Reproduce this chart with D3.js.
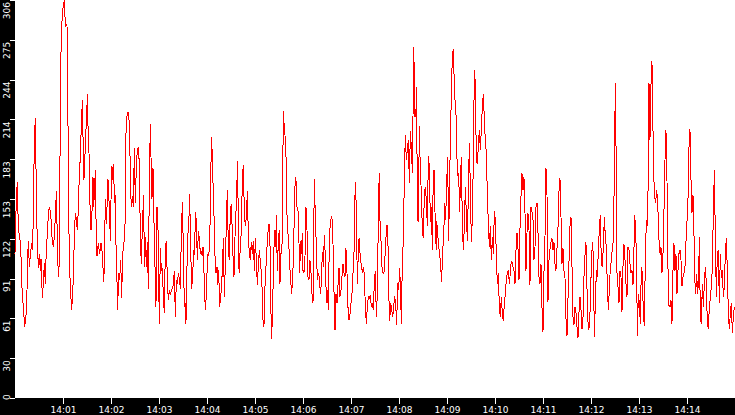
<!DOCTYPE html>
<html><head><meta charset="utf-8">
<script src="https://cdn.jsdelivr.net/npm/d3@7"></script>
<style>html,body{margin:0;padding:0;background:#000;overflow:hidden}</style>
</head><body><svg id="c" width="735" height="415"></svg>
<script>
// seconds after 14:00:00
const seconds = [
0,1.7,2.9,4.2,5.8,7.1,8.8,10.8,12.1,13.8,15,15.8,16.7,17.9,19.2,20.8,22.1,23.3,24.2,25.4,
27.1,28.3,29.2,30.4,31.7,32.5,34.2,35.4,36.7,37.9,39.2,40.4,41.7,42.9,44.6,46.7,48.3,50.4,51.7,53.3,
54.2,55.4,56.2,57.1,58.3,59.2,60.4,61.7,62.5,63.3,65,65.8,66.7,67.9,69.6,70.8,72.1,73.3,74.2,75.4,
76.7,77.9,79.2,80.4,81.2,82.9,84.2,85,86.2,87.1,88.3,89.6,90.4,91.2,92.5,93.8,95,96.2,97.5,98.3,
99.6,100.4,101.2,102.5,104.2,105.8,107.5,109.2,110.8,111.7,112.9,114.2,115.4,116.2,117.9,119.2,120,121.2,122.1,123.3,
124.2,125,126.2,127.1,128.3,129.6,130.8,132.1,133.3,134.6,135.8,137.1,
137.9,138.7,139.6,141.2,142.5,143.7,144.6,145.8,147.1,147.9,
149.2,150.4,151.7,152.9,154.2,155.4,156.7,157.9,159.2,160.8,
161.7,162.9,164.2,165.4,166.7,167.9,169.2,170,171.2,172.5,
173.7,175,176.2,177.5,178.7,179.6,180.4,181.7,182.9,184.2,
185.4,186.7,187.9,189.2,190.4,191.7,192.9,194.2,195.4,196.7,
197.9,199.2,200.4,201.7,202.9,204.2,205.4,206.7,207.9,209.2,
210.4,211.7,212.9,213.7,214.6,215.8,217.1,218.3,219.6,220.8,
222.1,223.3,224.6,225.4,226.7,227.9,229.2,230.4,231.7,232.9,234.2,
235,236.2,237.1,238.3,239.6,240.8,242.1,243.3,244.6,245.4,
246.7,247.9,249.2,250,251.2,252.5,253.3,254.6,255.8,257.1,
258.3,259.6,260.4,261.7,262.9,264.2,265.4,266.7,267.9,269.2,
270.4,271.7,272.9,273.7,275,276.2,277.1,278.3,279.6,280.4,
281.7,282.9,284.2,285.4,286.7,287.9,289.2,290.4,291.7,292.9,
294.2,295.4,296.7,297.9,299.2,300.4,301.7,302.9,304.2,305.4,
306.7,307.9,309.2,310,311.2,312.5,313.7,315,316.2,317.5,
318.7,319.6,320.8,322.1,323.3,324.6,325.8,326.7,327.9,329.2,330.4,
331.2,332.5,333.7,334.6,335.4,336.2,337.5,338.7,339.6,340.8,
342.1,343.3,344.6,345.8,347.1,348.3,349.2,350.4,351.2,352.5,
353.7,355,355.8,357.1,357.9,359.2,360,361.2,362.5,363.7,
365,366.2,367.5,368.7,370,371.2,372.5,373.3,374.2,375.4,
376.7,377.9,379.2,380.4,381.7,382.9,384.2,385.4,386.7,387.9,
389.2,390.4,391.7,392.9,394.2,395.4,396.7,397.9,399.2,400,
401.2,402.5,403.7,405,406.2,407.5,408.7,410,411.2,412.5,
413.7,415,416.2,417.5,418.7,420,421.2,422.5,423.7,424.6,
425.4,426.7,427.5,428.3,429.2,
430.4,431.7,432.9,434.2,435.4,436.7,437.9,439.2,440.4,441.7,
442.9,444.2,445.4,446.7,447.9,449.2,450.4,451.7,452.9,453.7,
454.6,455.4,456.2,457.5,458.7,460,461.2,462.5,463.7,465,
466.2,467.1,468.3,469.6,470.8,472.1,473.3,474.6,475.8,477.1,
478.3,479.6,480.8,482.1,482.9,484.2,485.4,486.7,487.9,489.2,
490.4,491.7,492.9,494.2,495.4,496.7,497.5,498.3,499.2,500,
501.2,502.1,502.9,504.2,505.4,506.7,507.9,509.2,510.4,511.7,
512.9,514.2,515.4,516.7,517.9,519.2,520.4,521.7,522.9,524.2,
525.4,526.7,
527.1,528.3,529.6,530.8,532.1,533.3,534.6,535.8,537.1,538.3,
539.6,540.8,542.1,542.9,544.2,545.4,546.7,547.9,548.7,550,
551.2,552.1,553.3,554.6,555.8,557.1,557.9,559.2,560.4,561.7,
562.9,564.2,565.4,566.7,567.9,569.2,570.4,571.7,572.9,574.2,
575.4,576.7,577.9,579.2,580.4,581.7,582.9,584.2,585.4,586.7,
587.9,589.2,590.4,591.7,592.9,594.2,595.4,596.7,597.9,599.2,
600.4,601.7,602.9,604.2,605.4,606.7,607.9,609.2,610.4,611.7,
612.9,614.2,615.4,616.7,617.9,619.2,620,
621.2,622.5,623.7,625,626.2,627.5,628.7,630,631.2,632.5,
633.7,635,636.2,637.5,638.7,640,641.2,642.5,643.7,645,
646.2,647.5,648.7,650,651.2,652.5,653.7,655,656.2,657.5,
658.7,660,661.2,662.5,663.7,665,666.2,667.5,668.7,670,
671.2,672.5,673.7,675,676.2,677.5,678.7,680,681.2,682.5,
683.7,685,686.2,687.5,688.7,690,691.2,692.5,693.7,695,
696.2,697.5,698.7,700,701.2,702.5,703.7,705,706.2,707.5,
708.7,710,711.2,712.5,
713.7,714.6,715.8,717.1,718.3,719.6,720.8,722.1,722.9,724.2,
725.4,726.7,727.9,729.2,730.4,731.7,732.9,734.2,735.4,736.7,
737.9,739.2,740.4,741.7,742.9,744.2,745.4,746.7,747.9,749.2,
750.4,751.7,752.5,753.7,755,756.2,757.5,758.7,760,761.2,
762.5,763.7,765,766.2,767.5,768.7,770,771.2,772.5,773.7,
774.6,775.8,777.1,777.9,779.2,780.4,781.7,782.9,784.2,785.4,
786.7,787.9,789.2,790.4,791.7,792.5,793.7,795,796.2,797.1,
798.3,799.6,800.8,802.1,803.3,804.6,805.8,806.7,
807.5,808.7,810,811.2,812.5,813.7,815,816.2,817.5,818.7,
820,821.2,822.5,823.7,825,826.2,827.5,828.7,830,831.2,
832.5,833.7,835,836.2,837.5,838.7,840,841.2,842.5,843.7,
845,846.2,847.5,848.7,849.6,850.8,852.1,853.3,854.6,855.4,
856.7,857.9,859.2,860.4,861.7,862.9,864.2,865.4,866.7,867.9,
869.2,870.4,871.7,872.9,874.2,875.4,876.7,877.9,879.2,880.4,
881.7,882.9,884.2,885.4,886.7,887.9,889.2,890.4,891.7,892.9,
894.2,895.4,896.7,897.9,899.2
];
const rate = [
111,155,166,129,125,116,84,66,55,64,83,107,121,101,110,119,114,160,198,215,
139,114,100,111,98,107,77,88,104,88,116,125,142,147,142,119,116,139,159,110,
93,104,180,257,282,297,301,306,293,286,287,251,170,105,80,68,80,101,125,142,
138,129,145,173,180,209,229,201,168,180,201,216,234,210,188,147,129,142,170,147,
162,175,139,109,119,111,119,111,89,101,153,134,153,168,147,121,152,178,168,180,
150,157,119,101,68,96,91,106,77,110,118,124,
142,203,216,220,214,188,156,147,155,147,
192,150,178,191,193,180,123,103,132,156,
101,124,101,120,84,165,211,185,153,177,
137,101,70,147,132,92,57,115,98,100,
78,65,116,121,91,75,83,79,83,84,
87,98,62,91,88,96,92,84,125,151,
115,70,73,57,89,125,130,157,116,84,
93,114,110,143,136,106,128,123,111,112,109,
116,98,77,68,88,111,109,118,160,201,
187,155,132,109,96,101,87,98,70,78,
86,106,123,78,103,134,160,114,106,147,
148,127,101,93,124,142,160,182,103,96,
119,127,169,179,142,132,139,159,124,111,
106,120,111,121,98,123,106,87,102,114,
105,96,80,60,55,86,101,116,127,134,
120,75,45,70,109,129,116,141,98,121,129,
88,111,114,166,221,212,202,188,147,129,
121,103,91,80,92,114,147,170,168,147,
145,119,96,121,111,127,98,96,109,147,
129,93,91,106,96,80,73,121,168,139,
116,91,95,93,80,88,112,101,125,109,
73,83,68,121,135,139,137,109,68,52,
80,73,86,100,78,83,93,103,96,93,
115,96,70,60,64,73,80,96,109,145,
166,145,106,88,120,
123,106,103,96,101,95,70,57,70,78,
77,79,70,73,68,89,98,62,80,116,
157,173,137,121,101,96,96,109,123,133,
119,83,59,73,68,62,70,78,73,56,
88,83,100,80,57,106,121,171,202,183,
191,198,165,205,193,173,216,270,247,216,
221,239,139,135,209,173,159,128,123,157,
162,152,132,186,178,135,147,114,175,175,
127,114,
136,127,116,111,101,89,114,123,150,137,
165,185,121,152,198,232,265,268,250,229,
220,191,171,173,143,173,185,134,114,132,
162,142,121,157,196,162,120,138,183,252,
242,182,180,194,206,191,206,224,234,214,
198,188,157,134,116,132,106,124,111,144,
137,109,88,96,70,62,78,65,59,73,
80,91,96,98,88,96,103,
105,101,98,88,113,127,116,91,129,155,
173,160,170,142,98,127,142,129,87,147,
143,137,106,116,147,150,129,93,88,103,
70,51,96,124,177,156,74,106,114,120,
123,114,120,103,98,115,130,159,169,139,
103,115,98,92,61,48,75,105,132,139,
103,62,56,70,66,55,46,66,78,68,
53,62,93,110,
120,96,62,52,57,83,110,120,106,47,
73,98,93,114,130,141,103,101,116,139,
124,116,86,68,83,101,105,116,121,173,
242,169,96,86,73,98,93,66,101,118,
106,88,78,116,114,103,96,98,87,114,
141,129,101,48,80,73,57,101,96,65,
55,106,137,132,173,242,198,241,259,223,
173,155,150,160,152,127,112,111,
116,96,111,143,183,206,167,101,71,70,
75,57,98,119,98,111,80,98,111,114,
106,86,93,96,101,120,136,152,193,207,
168,142,156,127,93,80,95,80,93,124,
62,57,88,70,88,101,88,57,53,70,
77,86,100,142,175,124,78,112,114,73,
111,92,98,78,86,111,123,98,65,53,
65,73,50,62,70
];
const xTickLabels = ["14:01","14:02","14:03","14:04","14:05","14:06","14:07","14:08","14:09","14:10","14:11","14:12","14:13","14:14"];
const yTickLabels = ["0","30","61","91","122","153","183","214","244","275","306"];
const yMax = 306;
const startTime = "14:00:00", endTime = "14:15:00";

const W = 735, H = 415;
const m = {left: 15, right: 0, top: 0, bottom: 17};
const parse = d3.timeParse("%H:%M:%S");
const t0 = parse(startTime), t1 = parse(endTime);
const n = Math.min(seconds.length, rate.length);
const data = d3.range(n).map(i => ({t: new Date(+t0 + seconds[i]*1000), v: rate[i]}));

const svg = d3.select("#c");
svg.append("rect").attr("width", W).attr("height", H).attr("fill", "#000");
const x = d3.scaleTime().domain([t0, t1]).range([m.left, W - m.right]);
const y = d3.scaleLinear().domain([0, yMax]).range([H - m.bottom, m.top]);

svg.append("rect").attr("x", m.left).attr("y", m.top)
  .attr("width", W - m.left - m.right).attr("height", H - m.bottom - m.top).attr("fill", "#fff");

svg.append("path").datum(data)
  .attr("fill", "none").attr("stroke", "#ff0000").attr("stroke-width", 1)
  .attr("shape-rendering", "crispEdges")
  .attr("d", d3.line().x(d => x(d.t)).y(d => y(d.v)));

const fontFam = "'DejaVu Sans', sans-serif";
const xTicks = xTickLabels.map(s => d3.timeParse("%H:%M")(s));
const gx = svg.append("g").attr("transform", `translate(0,${H - m.bottom})`)
  .call(d3.axisBottom(x).tickValues(xTicks).tickFormat((d,i) => xTickLabels[i]).tickSize(6).tickPadding(3));
gx.select(".domain").remove();
gx.selectAll("line").attr("stroke", "#fff").attr("shape-rendering", "crispEdges");
gx.selectAll("text").attr("fill", "#fff").attr("font-family", fontFam).attr("font-size", 9).attr("dy", null).attr("y", 15);

const yTicks = yTickLabels.map((s, i) => yMax * i / (yTickLabels.length - 1));
const gy = svg.append("g").attr("transform", `translate(${m.left},0)`)
  .call(d3.axisLeft(y).tickValues(yTicks).tickFormat((d,i) => yTickLabels[i]).tickSize(5));
gy.select(".domain").remove();
gy.selectAll("line").attr("stroke", "#fff").attr("shape-rendering", "crispEdges");
gy.selectAll(".tick text")
  .attr("fill", "#fff").attr("font-family", fontFam).attr("font-size", 9)
  .attr("x", null).attr("dy", null)
  .attr("text-anchor", (d,i) => i === 0 ? "start" : "end")
  .attr("transform", (d,i) => i === 0 ? "translate(-5.5,1.5) rotate(-90)" : "translate(-5.5,1.5) rotate(-90)");
</script></body></html>
